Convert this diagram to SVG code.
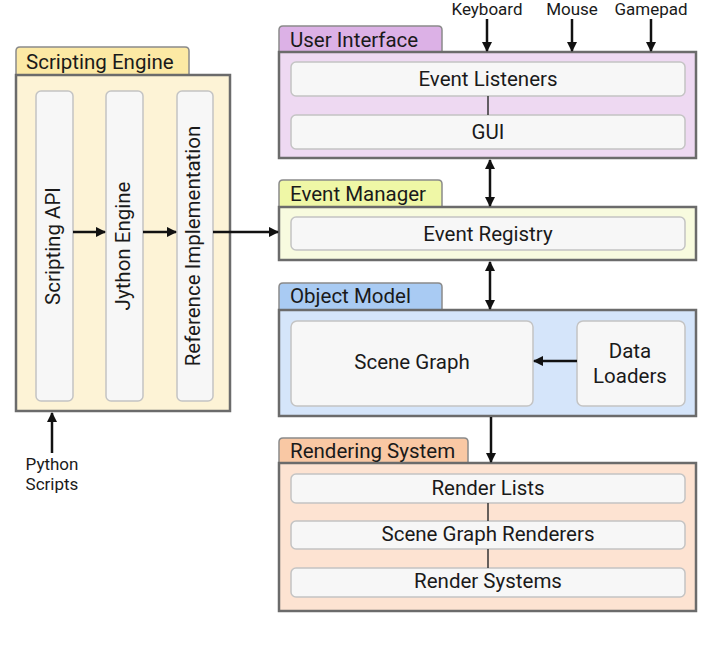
<svg xmlns="http://www.w3.org/2000/svg" width="710" height="647" viewBox="0 0 710 647">
<defs>
<marker id="ah" viewBox="0 0 10 10" refX="9" refY="5" markerWidth="4.2" markerHeight="4.2" orient="auto-start-reverse" markerUnits="strokeWidth">
<path d="M0,0 L10,5 L0,10 Z" fill="#111"/>
</marker>
<style>
text{font-family:Roboto,"Liberation Sans",sans-serif;fill:#1a1a1a}
.t{font-size:20.5px}
.s{font-size:17px;text-anchor:middle}
.c{text-anchor:middle}
.box{stroke:#6b6b6b;stroke-width:2.5}
.tab{stroke:#8a8a8a;stroke-width:1.5}
.in{fill:#f7f7f7;stroke:#c4c4c4;stroke-width:1.5}
.ln{stroke:#111;stroke-width:2.5;fill:none}
.thin{stroke:#333;stroke-width:1.5;fill:none}
</style>
</defs>
<rect width="710" height="647" fill="#ffffff"/>

<g id="scripting-engine">
<path class="tab" d="M16,75 V51 Q16,47 20,47 H185 Q189,47 189,51 V75" fill="#fce9a4"/>
<rect class="box" x="16" y="75" width="214" height="336" fill="#fdf3d6"/>
<text class="t" x="26" y="69">Scripting Engine</text>
</g>
<g id="scripting-api">
<rect class="in" x="36" y="91" width="37" height="310" rx="5"/>
<text class="t c" transform="translate(60,246) rotate(-90)">Scripting API</text>
</g>
<g id="jython-engine">
<rect class="in" x="106" y="91" width="37" height="310" rx="5"/>
<text class="t c" transform="translate(130,246) rotate(-90)">Jython Engine</text>
</g>
<g id="reference-implementation">
<rect class="in" x="177" y="91" width="36" height="310" rx="5"/>
<text class="t c" transform="translate(200,246) rotate(-90)">Reference Implementation</text>
</g>

<g id="user-interface">
<path class="tab" d="M279,52 V30 Q279,26 283,26 H438 Q442,26 442,30 V52" fill="#dcb1e6"/>
<rect class="box" x="279" y="52" width="417" height="106" fill="#eed9f2"/>
<text class="t" x="290" y="47">User Interface</text>
</g>
<g id="event-listeners">
<rect class="in" x="291" y="62" width="394" height="34" rx="5"/>
<text class="t c" x="488" y="86">Event Listeners</text>
</g>
<g id="gui">
<rect class="in" x="291" y="115" width="394" height="34" rx="5"/>
<text class="t c" x="488" y="139">GUI</text>
</g>

<g id="event-manager">
<path class="tab" d="M279,207 V184 Q279,180 283,180 H438 Q442,180 442,184 V207" fill="#eff7a6"/>
<rect class="box" x="279" y="207" width="417" height="53" fill="#f8fbdf"/>
<text class="t" x="290" y="201">Event Manager</text>
</g>
<g id="event-registry">
<rect class="in" x="291" y="217" width="394" height="33" rx="5"/>
<text class="t c" x="488" y="241">Event Registry</text>
</g>

<g id="object-model">
<path class="tab" d="M279,310 V287 Q279,283 283,283 H438 Q442,283 442,287 V310" fill="#a9cbf3"/>
<rect class="box" x="279" y="310" width="417" height="106" fill="#d5e5fa"/>
<text class="t" x="290" y="303">Object Model</text>
</g>
<g id="scene-graph">
<rect class="in" x="291" y="321" width="242" height="85" rx="6"/>
<text class="t c" x="412" y="369">Scene Graph</text>
</g>
<g id="data-loaders">
<rect class="in" x="577" y="321" width="108" height="85" rx="6"/>
<text class="t c" x="630" y="358">Data</text>
<text class="t c" x="630" y="383">Loaders</text>
</g>

<g id="rendering-system">
<path class="tab" d="M279,463 V442 Q279,438 283,438 H464 Q468,438 468,442 V463" fill="#f9c8a4"/>
<rect class="box" x="279" y="463" width="417" height="148" fill="#fde3d2"/>
<text class="t" x="290" y="458">Rendering System</text>
</g>
<g id="render-lists">
<rect class="in" x="291" y="474" width="394" height="29" rx="5"/>
<text class="t c" x="488" y="495">Render Lists</text>
</g>
<g id="scene-graph-renderers">
<rect class="in" x="291" y="521" width="394" height="28" rx="5"/>
<text class="t c" x="488" y="541">Scene Graph Renderers</text>
</g>
<g id="render-systems">
<rect class="in" x="291" y="568" width="394" height="29" rx="5"/>
<text class="t c" x="488" y="588">Render Systems</text>
</g>

<g id="inputs">
<text class="s" x="487" y="15">Keyboard</text>
<text class="s" x="572" y="15">Mouse</text>
<text class="s" x="651" y="15">Gamepad</text>
<text class="s" x="52" y="470">Python</text>
<text class="s" x="52" y="490">Scripts</text>
</g>

<g id="connectors">
<line class="ln" x1="73" y1="232" x2="105" y2="232" marker-end="url(#ah)"/>
<line class="ln" x1="143" y1="232" x2="176" y2="232" marker-end="url(#ah)"/>
<line class="ln" x1="213" y1="232" x2="278" y2="232" marker-end="url(#ah)"/>
<line class="ln" x1="487" y1="19" x2="487" y2="51" marker-end="url(#ah)"/>
<line class="ln" x1="572" y1="19" x2="572" y2="51" marker-end="url(#ah)"/>
<line class="ln" x1="651" y1="19" x2="651" y2="51" marker-end="url(#ah)"/>
<line class="thin" x1="488" y1="96" x2="488" y2="115"/>
<line class="ln" x1="490" y1="160" x2="490" y2="206" marker-start="url(#ah)" marker-end="url(#ah)"/>
<line class="ln" x1="490" y1="262" x2="490" y2="309" marker-start="url(#ah)" marker-end="url(#ah)"/>
<line class="ln" x1="577" y1="361" x2="534" y2="361" marker-end="url(#ah)"/>
<line class="ln" x1="491" y1="417" x2="491" y2="462" marker-end="url(#ah)"/>
<line class="thin" x1="488" y1="503" x2="488" y2="521"/>
<line class="thin" x1="488" y1="549" x2="488" y2="568"/>
<line class="ln" x1="52" y1="453" x2="52" y2="413" marker-end="url(#ah)"/>
</g>
</svg>
